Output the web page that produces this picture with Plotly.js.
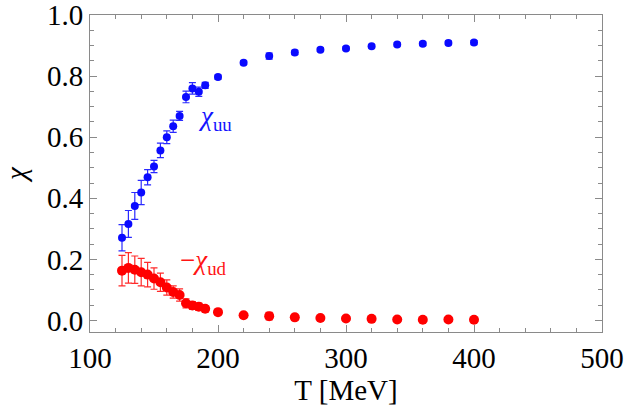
<!DOCTYPE html>
<html>
<head>
<meta charset="utf-8">
<script src="https://cdn.plot.ly/plotly-3.0.1.min.js"></script>
<style>
  html, body { margin: 0; padding: 0; background: #fff; }
  #chart { width: 625px; height: 411px; }
</style>
</head>
<body>
<div id="chart"></div>
<script>
// Temperature grid (MeV)
const temperature = [125, 130, 135, 140, 145, 150, 155, 160, 165, 170, 175, 180, 185, 190,
                     200, 220, 240, 260, 280, 300, 320, 340, 360, 380, 400];

// Diagonal susceptibility chi_uu and its uncertainty
const chiUU = [0.271, 0.316, 0.375, 0.419, 0.469, 0.504, 0.557, 0.600, 0.636, 0.670, 0.732, 0.760, 0.749, 0.770,
               0.797, 0.844, 0.866, 0.878, 0.887, 0.891, 0.898, 0.904, 0.906, 0.909, 0.910];
const errUU = [0.043, 0.044, 0.044, 0.040, 0.025, 0.020, 0.024, 0.021, 0.020, 0.015, 0.019, 0.019, 0.015, 0.010,
               0.007, 0.006, 0.010, 0.007, 0.006, 0.005, 0.005, 0.005, 0.006, 0.006, 0.007];

// Off-diagonal susceptibility, plotted as -chi_ud
const minusChiUD = [0.163, 0.172, 0.166, 0.158, 0.150, 0.137, 0.125, 0.108, 0.093, 0.083, 0.056, 0.049, 0.045, 0.038,
                    0.027, 0.017, 0.014, 0.010, 0.008, 0.006, 0.005, 0.003, 0.002, 0.003, 0.002];
const errUD = [0.050, 0.050, 0.045, 0.045, 0.040, 0.035, 0.030, 0.025, 0.020, 0.020, 0.015, 0.013, 0.012, 0.010,
               0.008, 0.008, 0.012, 0.010, 0.007, 0.006, 0.006, 0.005, 0.006, 0.007, 0.007];

const xTicks = [100, 200, 300, 400, 500];
const yTicks = [0.0, 0.2, 0.4, 0.6, 0.8, 1.0];

const serif = '"Liberation Serif", "Times New Roman", serif';
const frameGray = '#8a8a8a';

const traces = [
  {
    x: temperature, y: chiUU, type: 'scatter', mode: 'markers',
    marker: { color: '#0a0aff', size: 8 },
    error_y: { type: 'data', array: errUU, visible: true, color: '#2a2aff', thickness: 1.2, width: 3.5 },
    hoverinfo: 'x+y'
  },
  {
    x: temperature, y: minusChiUD, type: 'scatter', mode: 'markers',
    marker: { color: '#ff0000', size: 10 },
    error_y: { type: 'data', array: errUD, visible: true, color: '#ff2a2a', thickness: 1.2, width: 3.5 },
    hoverinfo: 'x+y'
  }
];

const axisCommon = {
  showgrid: false, zeroline: false, showline: true, linecolor: frameGray, linewidth: 1,
  mirror: 'ticks', ticks: 'inside', tickcolor: frameGray, tickwidth: 1, ticklen: 7,
  ticklabeloverflow: 'allow',
  tickfont: { family: serif, size: 29, color: '#000' }
};

const layout = {
  width: 625, height: 411,
  margin: { l: 90, r: 23, t: 15, b: 79 },
  paper_bgcolor: '#fff', plot_bgcolor: '#fff',
  showlegend: false,
  xaxis: Object.assign({}, axisCommon, {
    range: [100, 500], tickvals: xTicks, ticktext: xTicks.map(String),
    minor: { dtick: 20, tick0: 100, ticks: 'inside', ticklen: 4, tickcolor: frameGray, tickwidth: 1 },
    title: { text: 'T [MeV]', font: { family: serif, size: 29, color: '#000' }, standoff: 4 }
  }),
  yaxis: Object.assign({}, axisCommon, {
    range: [-0.038, 1.0005], tickvals: yTicks, ticktext: yTicks.map(v => v.toFixed(1)),
    minor: { dtick: 0.05, tick0: 0, ticks: 'inside', ticklen: 4, tickcolor: frameGray, tickwidth: 1 },
    title: { text: '<i>χ</i>', font: { family: serif, size: 29, color: '#000' }, standoff: 14 }
  }),
  annotations: [
    {
      x: 183, y: 0.662, xref: 'x', yref: 'y', xanchor: 'left', yanchor: 'middle', showarrow: false,
      text: '<i>χ</i><sub>uu</sub>', font: { family: serif, size: 27, color: '#1414ff' }
    },
    {
      x: 169, y: 0.19, xref: 'x', yref: 'y', xanchor: 'left', yanchor: 'middle', showarrow: false,
      text: '−<i>χ</i><sub>ud</sub>', font: { family: serif, size: 27, color: '#ff1414' }
    }
  ]
};

Plotly.newPlot('chart', traces, layout, { staticPlot: true, displayModeBar: false });
</script>
</body>
</html>
